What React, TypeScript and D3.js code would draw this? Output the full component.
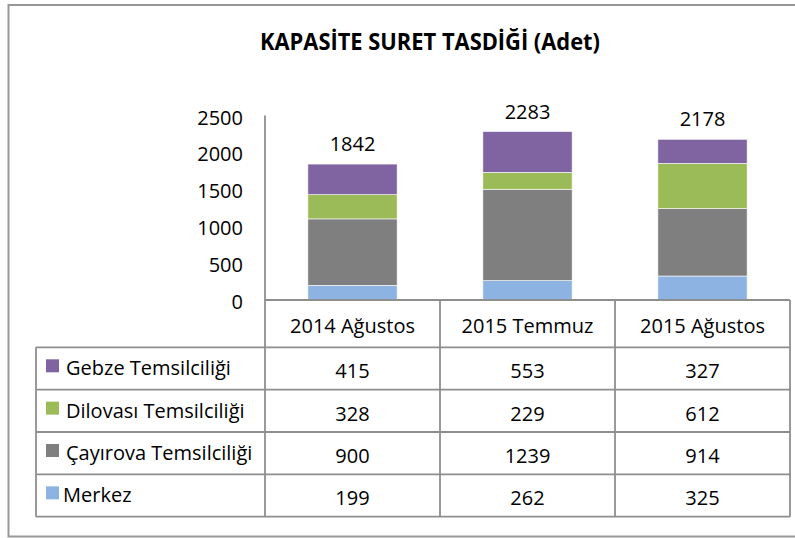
import React from "react";
import * as d3 from "d3";

const categories = ["2014 Ağustos", "2015 Temmuz", "2015 Ağustos"];
const seriesNames = ["Merkez", "Çayırova Temsilciliği", "Dilovası Temsilciliği", "Gebze Temsilciliği"];
const merkez = [199, 262, 325];
const cayirova = [900, 1239, 914];
const dilovasi = [328, 229, 612];
const gebze = [415, 553, 327];
const totals = [1842, 2283, 2178];
const yTicks = [0, 500, 1000, 1500, 2000, 2500];
const colors = ["#8DB3E2", "#7F7F7F", "#9BBB59", "#8064A2"];
const title = "KAPASİTE SURET TASDİĞİ (Adet)";

const W = 795;
const H = 538;
const FONT = "'Open Sans', 'Noto Sans', sans-serif";

export default function App() {
  const seriesValues = [merkez, cayirova, dilovasi, gebze];
  const rows = categories.map((c, i) => {
    const o: any = { cat: c };
    seriesNames.forEach((s, j) => (o[s] = seriesValues[j][i]));
    return o;
  });
  const stack = d3.stack<any>().keys(seriesNames)(rows);

  const plotLeft = 265;
  const plotRight = 790;
  const plotBottom = 300;
  const plotTop = 115.5;
  const x = d3.scaleBand<string>().domain(categories).range([plotLeft, plotRight]).padding(0);
  const y = d3.scaleLinear().domain([0, 2500]).range([plotBottom, plotTop]);
  const barW = x.bandwidth() * 0.51;

  const tableLeft = 36;
  const headerBottom = 347.3;
  const rowH = 42.35;
  const tableRows = [3, 2, 1, 0]; // Gebze, Dilovası, Çayırova, Merkez
  const tableBottom = headerBottom + rowH * tableRows.length;
  const grid = "#8e8e8e";

  return (
    <svg
      width={W}
      height={H}
      style={{ position: "absolute", left: 0, top: 0, background: "#fff" }}
      fontFamily={FONT}
    >
      <rect x={0} y={0} width={W} height={H} fill="#fff" />
      <rect x={8.5} y={5} width={W + 10} height={531.5} fill="none" stroke="#979797" strokeWidth={2} />

      <text
        x={260}
        y={50}
        fontSize={24}
        fontWeight="bold"
        fill="#000"
        textLength={340}
        lengthAdjust="spacingAndGlyphs"
      >
        {title}
      </text>

      {yTicks.map((t) => (
        <text key={t} x={243} y={y(t) + 9} textAnchor="end" fontSize={20} fill="#000">
          {t}
        </text>
      ))}

      {stack.map((s, si) =>
        s.map((d, i) => (
          <rect
            key={`${si}-${i}`}
            x={(x(categories[i]) as number) + (x.bandwidth() - barW) / 2}
            y={y(d[1])}
            width={barW}
            height={y(d[0]) - y(d[1])}
            fill={colors[si]}
            stroke="#ffffff"
            strokeWidth={0.6}
          />
        ))
      )}

      {categories.map((c, i) => (
        <text key={c} x={(x(c) as number) + x.bandwidth() / 2} y={y(totals[i]) - 13} textAnchor="middle" fontSize={20} fill="#000">
          {totals[i]}
        </text>
      ))}

      {/* table grid */}
      <line x1={plotLeft} x2={plotLeft} y1={plotTop} y2={tableBottom} stroke={grid} strokeWidth={1.8} />
      <line x1={plotLeft} x2={plotRight} y1={plotBottom} y2={plotBottom} stroke={grid} strokeWidth={1.8} />
      {categories.map((c) => (
        <line
          key={"v" + c}
          x1={(x(c) as number) + x.bandwidth()}
          x2={(x(c) as number) + x.bandwidth()}
          y1={plotBottom}
          y2={tableBottom}
          stroke={grid}
          strokeWidth={1.8}
        />
      ))}
      <line x1={tableLeft} x2={tableLeft} y1={headerBottom} y2={tableBottom} stroke={grid} strokeWidth={1.8} />
      {d3.range(tableRows.length + 1).map((k) => (
        <line
          key={"h" + k}
          x1={tableLeft}
          x2={plotRight}
          y1={headerBottom + k * rowH}
          y2={headerBottom + k * rowH}
          stroke={grid}
          strokeWidth={1.8}
        />
      ))}

      {categories.map((c) => (
        <text key={"hd" + c} x={(x(c) as number) + x.bandwidth() / 2} y={plotBottom + 33} textAnchor="middle" fontSize={20} fill="#000">
          {c}
        </text>
      ))}

      {tableRows.map((si, r) => {
        const top = headerBottom + r * rowH;
        return (
          <g key={"r" + si}>
            <rect x={46} y={top + 12} width={13} height={13} fill={colors[si]} />
            <text x={si === 0 ? 63 : 66} y={top + 28} fontSize={20} fill="#000">
              {seriesNames[si]}
            </text>
            {categories.map((c, i) => (
              <text key={c} x={(x(c) as number) + x.bandwidth() / 2} y={top + 31} textAnchor="middle" fontSize={20} fill="#000">
                {seriesValues[si][i]}
              </text>
            ))}
          </g>
        );
      })}
    </svg>
  );
}
